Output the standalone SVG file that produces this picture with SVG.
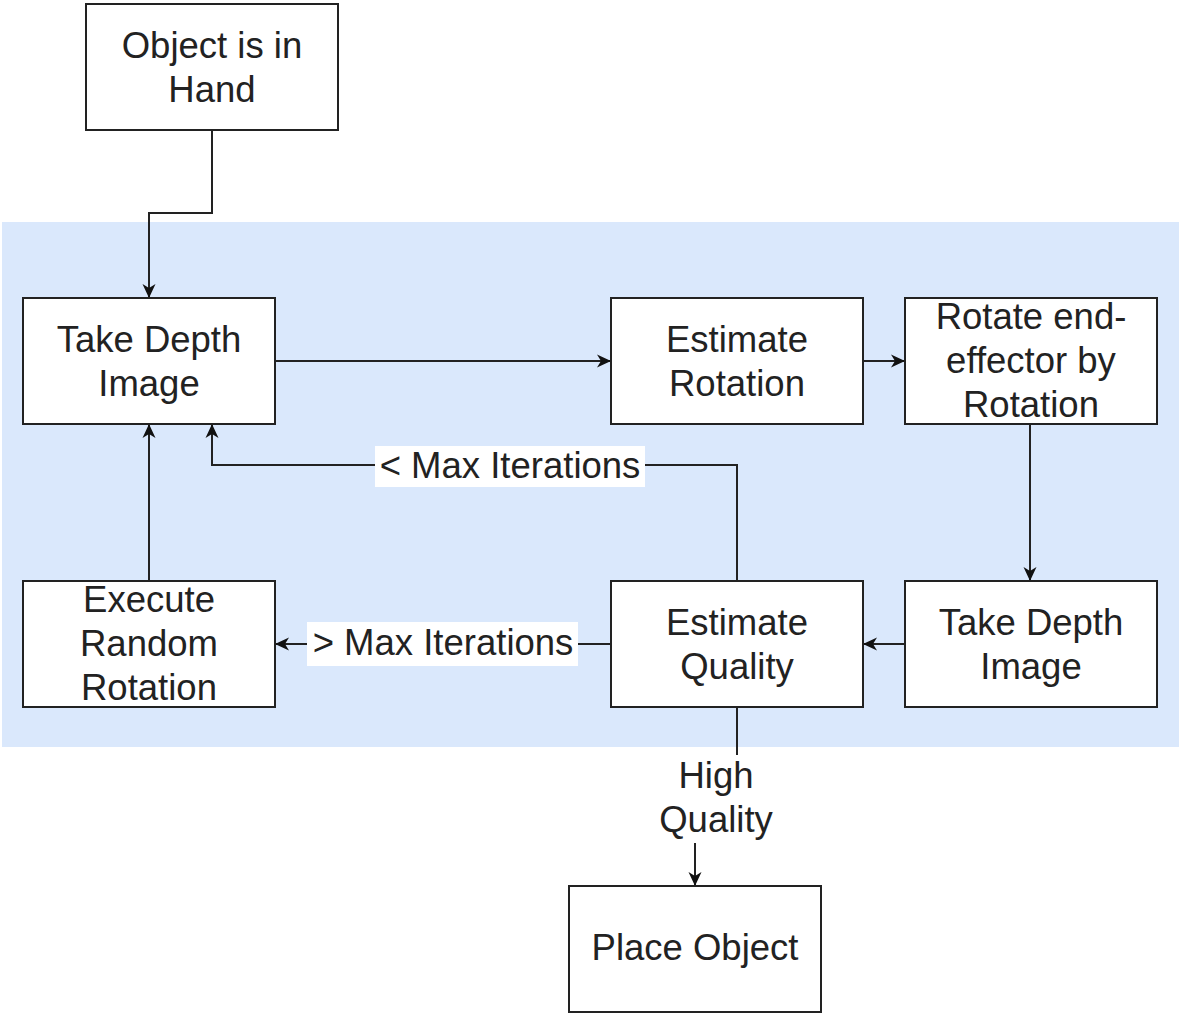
<svg xmlns="http://www.w3.org/2000/svg" width="1179" height="1013" viewBox="0 0 1179 1013">
<defs>
<style>
.node rect{fill:#fff;stroke:#222;stroke-width:2}
text{font-family:"Liberation Sans",Arial,sans-serif;font-size:36.5px;fill:#222;text-anchor:middle}
.edge{fill:none;stroke:#222;stroke-width:2}
.lbl{fill:#fff;stroke:none}
</style>
<marker id="arr" viewBox="0 0 14 14" refX="13" refY="7" markerWidth="14" markerHeight="14" markerUnits="userSpaceOnUse" orient="auto">
<path d="M0,0.5 L14,7 L0,13.5 L4,7 Z" fill="#111"/>
</marker>
</defs>
<rect x="2" y="222" width="1177" height="525" fill="#dae8fc"/>
<g id="connectors">
<path class="edge" d="M212,130 V213 H149 V297" marker-end="url(#arr)"/>
<path class="edge" d="M275,361 H610" marker-end="url(#arr)"/>
<path class="edge" d="M863,361 H904" marker-end="url(#arr)"/>
<path class="edge" d="M1030,424 V580" marker-end="url(#arr)"/>
<path class="edge" d="M905,644 H864" marker-end="url(#arr)"/>
<path class="edge" d="M611,644 H276" marker-end="url(#arr)"/>
<path class="edge" d="M737,581 V465 H212 V425" marker-end="url(#arr)"/>
<path class="edge" d="M149,581 V425" marker-end="url(#arr)"/>
<path class="edge" d="M737,707 V797 H695 V885" marker-end="url(#arr)"/>
<rect class="lbl" x="375" y="446" width="270" height="41"/>
<text x="510" y="478">&lt; Max Iterations</text>
<rect class="lbl" x="307" y="622" width="271" height="44"/>
<text x="443" y="655">&gt; Max Iterations</text>
<rect class="lbl" x="655" y="755" width="122" height="88"/>
<text x="716" y="788">High</text>
<text x="716" y="832">Quality</text>
</g>
<g id="n-hand" class="node"><rect x="86" y="4" width="252" height="126"/><text x="212" y="58">Object is in</text><text x="212" y="102">Hand</text></g>
<g id="n-tdi1" class="node"><rect x="23" y="298" width="252" height="126"/><text x="149" y="352">Take Depth</text><text x="149" y="396">Image</text></g>
<g id="n-er" class="node"><rect x="611" y="298" width="252" height="126"/><text x="737" y="352">Estimate</text><text x="737" y="396">Rotation</text></g>
<g id="n-rot" class="node"><rect x="905" y="298" width="252" height="126"/><text x="1031" y="329">Rotate end-</text><text x="1031" y="373">effector by</text><text x="1031" y="417">Rotation</text></g>
<g id="n-exec" class="node"><rect x="23" y="581" width="252" height="126"/><text x="149" y="612">Execute</text><text x="149" y="656">Random</text><text x="149" y="700">Rotation</text></g>
<g id="n-eq" class="node"><rect x="611" y="581" width="252" height="126"/><text x="737" y="635">Estimate</text><text x="737" y="679">Quality</text></g>
<g id="n-tdi2" class="node"><rect x="905" y="581" width="252" height="126"/><text x="1031" y="635">Take Depth</text><text x="1031" y="679">Image</text></g>
<g id="n-place" class="node"><rect x="569" y="886" width="252" height="126"/><text x="695" y="960">Place Object</text></g>
</svg>
